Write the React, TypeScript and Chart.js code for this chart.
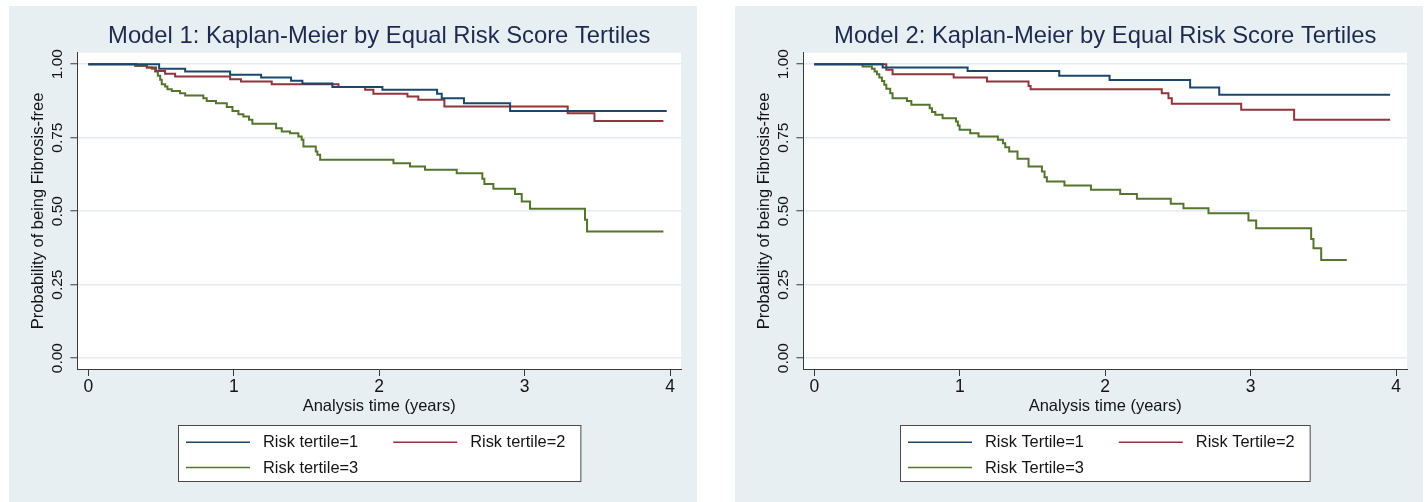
import { useEffect, useRef } from "react";
import { Chart, registerables } from "chart.js";

Chart.register(...registerables);

// ---------- axis ticks ----------
const xTicks = [0, 1, 2, 3, 4];
const yTicks = [0, 0.25, 0.5, 0.75, 1];

// ---------- Model 1 ----------
const m1Title = "Model 1: Kaplan-Meier by Equal Risk Score Tertiles";
const m1Labels = ["Risk tertile=1", "Risk tertile=2", "Risk tertile=3"];
const m1T1Time = [0, 0.487, 0.666, 0.975, 1.188, 1.394, 1.472, 1.678, 2.022, 2.398, 2.43, 2.583, 2.9, 3.977];
const m1T1Surv = [1, 0.984, 0.975, 0.964, 0.955, 0.944, 0.934, 0.922, 0.913, 0.899, 0.884, 0.867, 0.841, 0.841];
const m1T2Time = [0, 0.333, 0.402, 0.466, 0.528, 0.597, 0.975, 1.05, 1.261, 1.72, 1.903, 1.96, 2.194, 2.269, 2.448, 3.296, 3.48, 3.954];
const m1T2Surv = [1, 0.996, 0.989, 0.977, 0.967, 0.958, 0.949, 0.941, 0.932, 0.922, 0.913, 0.899, 0.89, 0.879, 0.856, 0.833, 0.807, 0.807];
const m1T3Time = [0, 0.322, 0.402, 0.436, 0.459, 0.478, 0.494, 0.505, 0.528, 0.544, 0.574, 0.631, 0.666, 0.791, 0.814, 0.878, 0.952, 0.991, 1.032, 1.066, 1.105, 1.128, 1.291, 1.33, 1.387, 1.444, 1.467, 1.479, 1.564, 1.575, 1.594, 2.098, 2.212, 2.315, 2.533, 2.709, 2.723, 2.785, 2.934, 2.98, 3.037, 3.415, 3.429, 3.954];
const m1T3Surv = [1, 0.994, 0.989, 0.984, 0.975, 0.961, 0.947, 0.932, 0.924, 0.915, 0.909, 0.901, 0.893, 0.884, 0.875, 0.867, 0.854, 0.841, 0.83, 0.822, 0.811, 0.797, 0.782, 0.771, 0.765, 0.754, 0.743, 0.72, 0.703, 0.692, 0.675, 0.663, 0.652, 0.641, 0.629, 0.61, 0.592, 0.576, 0.558, 0.533, 0.508, 0.471, 0.431, 0.431];

// ---------- Model 2 ----------
const m2Title = "Model 2: Kaplan-Meier by Equal Risk Score Tertiles";
const m2Labels = ["Risk Tertile=1", "Risk Tertile=2", "Risk Tertile=3"];
const m2T1Time = [0, 0.47, 1.054, 1.684, 2.03, 2.584, 2.784, 3.959];
const m2T1Surv = [1, 0.989, 0.977, 0.961, 0.946, 0.921, 0.896, 0.896];
const m2T2Time = [0, 0.495, 0.538, 0.958, 1.187, 1.473, 1.487, 2.389, 2.435, 2.458, 2.935, 3.299, 3.959];
const m2T2Surv = [1, 0.981, 0.966, 0.955, 0.941, 0.926, 0.915, 0.901, 0.884, 0.865, 0.845, 0.811, 0.811];
const m2T3Time = [0, 0.332, 0.396, 0.415, 0.431, 0.447, 0.465, 0.481, 0.495, 0.522, 0.538, 0.637, 0.667, 0.793, 0.809, 0.832, 0.882, 0.974, 0.987, 0.999, 1.072, 1.129, 1.262, 1.297, 1.313, 1.34, 1.397, 1.473, 1.565, 1.583, 1.599, 1.72, 1.902, 2.103, 2.218, 2.451, 2.538, 2.71, 2.985, 3.038, 3.416, 3.432, 3.485, 3.661];
const m2T3Surv = [1, 0.992, 0.984, 0.975, 0.966, 0.955, 0.943, 0.93, 0.916, 0.901, 0.884, 0.875, 0.862, 0.85, 0.837, 0.828, 0.816, 0.805, 0.791, 0.777, 0.765, 0.754, 0.743, 0.731, 0.717, 0.703, 0.678, 0.652, 0.635, 0.615, 0.601, 0.587, 0.573, 0.558, 0.542, 0.525, 0.51, 0.493, 0.468, 0.442, 0.405, 0.374, 0.334, 0.334];

const xTitle = "Analysis time (years)";
const yTitle = "Probability of being Fibrosis-free";

// ---------- styles ----------
const seriesColors = ["#1a476f", "#90353b", "#55752f"];
const PANEL_BG = "#e7eff2";
const GRID = "#e4ecef";
const AXIS = "#3a3a3a";
const TEXT = "#141414";
const TITLE_COLOR = "#1d2a4f";
const FONT = '"Liberation Sans", Arial, Helvetica, sans-serif';
const NARROW = '"Liberation Sans Narrow", "Liberation Sans", Arial, sans-serif';
const W = 688;
const H = 496;

const plotBg = {
  id: "plotBg",
  beforeDraw(chart: any) {
    const { ctx, chartArea: a } = chart;
    ctx.save();
    ctx.fillStyle = "#ffffff";
    ctx.fillRect(a.left, a.top, a.right - a.left, a.bottom - a.top);
    ctx.restore();
  },
};

const kmLegend = {
  id: "kmLegend",
  afterDraw(chart: any) {
    const { ctx, chartArea: a } = chart;
    const ds = chart.data.datasets;
    ctx.save();
    ctx.font = `16.4px ${FONT}`;
    const tw = Math.max(...ds.map((d: any) => ctx.measureText(d.label).width));
    const sample = 64, gap = 13, colGap = 35, padL = 7.5, padR = 15.5;
    const colW = sample + gap + tw;
    const boxW = padL + colW * 2 + colGap + padR;
    const cx = (a.left + a.right) / 2;
    const bx = Math.round(cx - boxW / 2) + 0.5;
    const by = Math.round(a.bottom + 56) + 0.5;
    const bh = 56;
    ctx.fillStyle = "#ffffff";
    ctx.fillRect(bx, by, boxW, bh);
    ctx.strokeStyle = "#4a4a4a";
    ctx.lineWidth = 1;
    ctx.strokeRect(bx, by, boxW, bh);
    ds.forEach((d: any, i: number) => {
      const col = i % 2;
      const row = Math.floor(i / 2);
      const x0 = bx + padL + col * (colW + colGap);
      const y = by + 16.7 + row * 25.3;
      ctx.strokeStyle = d.borderColor;
      ctx.lineWidth = 1.6;
      ctx.beginPath();
      ctx.moveTo(x0, y);
      ctx.lineTo(x0 + sample, y);
      ctx.stroke();
      ctx.fillStyle = TEXT;
      ctx.textBaseline = "middle";
      ctx.textAlign = "left";
      ctx.fillText(d.label, x0 + sample + gap, y + 0.5);
    });
    ctx.restore();
  },
};

type Series = { t: number[]; s: number[] };

function KMPanel(props: { left: number; title: string; labels: string[]; series: Series[] }) {
  const ref = useRef<HTMLCanvasElement>(null);
  useEffect(() => {
    const canvas = ref.current!;
    const m = document.createElement("canvas").getContext("2d")!;
    m.font = `15.5px ${NARROW}`;
    const widest = Math.max(...yTicks.map((v) => m.measureText(v.toFixed(2)).width));
    const yPad = 12.9 - widest / 2;

    const chart = new Chart(canvas, {
      type: "line",
      data: {
        datasets: props.series.map((sr, i) => ({
          label: props.labels[i],
          data: sr.t.map((t, j) => ({ x: t, y: sr.s[j] })),
          borderColor: seriesColors[i],
          backgroundColor: seriesColors[i],
          borderWidth: 2,
          stepped: true,
          pointRadius: 0,
          fill: false,
        })),
      },
      options: {
        animation: false,
        responsive: false,
        events: [],
        layout: { padding: { left: 0, right: 16, top: 0, bottom: 73 } },
        plugins: {
          legend: { display: false },
          tooltip: { enabled: false },
          title: {
            display: true,
            text: props.title,
            fullSize: false,
            color: TITLE_COLOR,
            font: { family: FONT, size: 23.8, weight: "normal" },
            padding: { top: 16.4, bottom: 1.74 },
          },
        },
        scales: {
          x: {
            type: "linear",
            min: -0.075,
            max: 4.075,
            afterBuildTicks: (s: any) => {
              s.ticks = xTicks.map((v) => ({ value: v }));
            },
            afterFit: (s: any) => {
              s.height = 60;
            },
            grid: { drawOnChartArea: false, drawTicks: true, tickLength: 7, tickColor: AXIS, tickWidth: 1 },
            border: { display: true, color: AXIS, width: 1 },
            ticks: {
              color: TEXT,
              font: { family: FONT, size: 17.5 },
              padding: 1,
              autoSkip: false,
              maxRotation: 0,
              callback: (v: any) => String(v),
            },
            title: {
              display: true,
              text: xTitle,
              color: TEXT,
              font: { family: FONT, size: 16.5 },
              padding: { top: 0, bottom: 12.5 },
            },
          },
          y: {
            type: "linear",
            min: -0.037,
            max: 1.039,
            afterBuildTicks: (s: any) => {
              s.ticks = yTicks.map((v) => ({ value: v }));
            },
            afterFit: (s: any) => {
              s.width = 68.4;
            },
            grid: { color: GRID, lineWidth: 1.5, drawTicks: true, tickLength: 7, tickColor: AXIS, tickWidth: 1 },
            border: { display: true, color: AXIS, width: 1 },
            ticks: {
              color: TEXT,
              font: { family: NARROW, size: 15.5 },
              minRotation: 90,
              maxRotation: 90,
              crossAlign: "center",
              padding: yPad,
              autoSkip: false,
              callback: (v: any) => Number(v).toFixed(2),
            },
            title: {
              display: true,
              text: yTitle,
              color: TEXT,
              font: { family: FONT, size: 16.5 },
              padding: { top: 19.4, bottom: 0 },
            },
          },
        },
      } as any,
      plugins: [plotBg, kmLegend],
    });
    return () => chart.destroy();
  }, []);

  return (
    <div
      style={{
        position: "absolute",
        left: props.left,
        top: 6,
        width: W,
        height: H,
        background: PANEL_BG,
      }}
    >
      <canvas ref={ref} width={W} height={H} style={{ width: W, height: H, display: "block" }} />
    </div>
  );
}

export default function App() {
  return (
    <div>
      <KMPanel
        left={9}
        title={m1Title}
        labels={m1Labels}
        series={[
          { t: m1T1Time, s: m1T1Surv },
          { t: m1T2Time, s: m1T2Surv },
          { t: m1T3Time, s: m1T3Surv },
        ]}
      />
      <KMPanel
        left={735}
        title={m2Title}
        labels={m2Labels}
        series={[
          { t: m2T1Time, s: m2T1Surv },
          { t: m2T2Time, s: m2T2Surv },
          { t: m2T3Time, s: m2T3Surv },
        ]}
      />
    </div>
  );
}
